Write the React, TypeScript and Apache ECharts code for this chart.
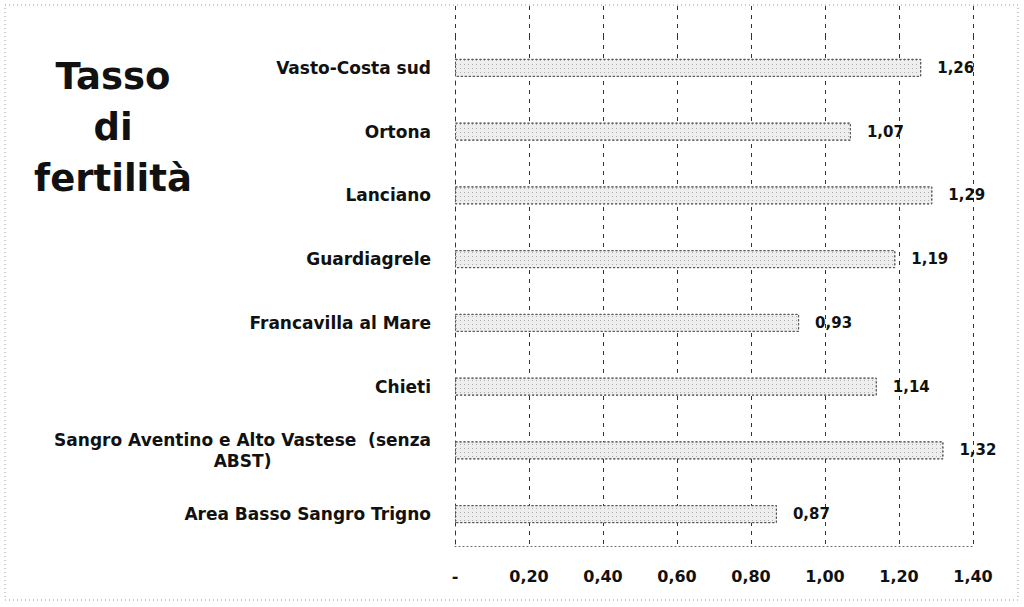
import React, { useEffect, useRef } from "react";
import * as echarts from "echarts";

const categories = [
  "Vasto-Costa sud",
  "Ortona",
  "Lanciano",
  "Guardiagrele",
  "Francavilla al Mare",
  "Chieti",
  "Sangro Aventino e Alto Vastese  (senza ABST)",
  "Area Basso Sangro Trigno",
];
const values = [1.26, 1.07, 1.29, 1.19, 0.93, 1.14, 1.32, 0.87];
const axisMin = 0;
const axisMax = 1.4;
const axisStep = 0.2;
const titleText = "Tasso\ndi\nfertilità";

const FONT = "DejaVu Sans";
const fmt = (v: number) => (Math.abs(v) < 1e-9 ? "-" : v.toFixed(2).replace(".", ","));

export default function App() {
  const ref = useRef<HTMLDivElement>(null);
  useEffect(() => {
    if (!ref.current) return;
    const chart = echarts.init(ref.current, null, { renderer: "svg" });
    const gridLineStyle = { color: "#333", type: [4, 5] as any, width: 1 };
    chart.setOption({
      animation: false,
      backgroundColor: "#fff",
      textStyle: { fontFamily: FONT },
      grid: [
        { left: 455, right: 51, top: 36, bottom: 61, containLabel: false },
        { left: 455, right: 51, top: 6, height: 30, containLabel: false },
      ],
      graphic: [
        {
          type: "rect",
          shape: { x: 5, y: 5, width: 1013, height: 595 },
          style: { fill: "none", stroke: "#999", lineWidth: 1, lineDash: [1, 3] },
          silent: true,
        },
        {
          type: "text",
          x: 113,
          y: 127,
          style: {
            text: titleText,
            fontFamily: FONT,
            fontWeight: "bold",
            fontSize: 37,
            lineHeight: 51,
            fill: "#111",
            align: "center",
            verticalAlign: "middle",
          },
        },
      ],
      xAxis: [
        {
          type: "value",
          gridIndex: 0,
          min: axisMin,
          max: axisMax,
          interval: axisStep,
          axisLine: { show: true, lineStyle: { color: "#666", type: [1, 3] as any } },
          axisTick: { show: false },
          splitLine: { show: true, lineStyle: gridLineStyle },
          axisLabel: {
            formatter: (v: number) => fmt(v),
            fontFamily: FONT,
            fontWeight: "bold",
            fontSize: 16,
            color: "#111",
            margin: 22,
          },
        },
        {
          type: "value",
          gridIndex: 1,
          min: axisMin,
          max: axisMax,
          interval: axisStep,
          axisLine: { show: false },
          axisTick: { show: false },
          axisLabel: { show: false },
          splitLine: { show: true, lineStyle: gridLineStyle },
        },
      ],
      yAxis: [
        {
          type: "category",
          gridIndex: 0,
          data: categories,
          inverse: true,
          axisLine: { show: true, lineStyle: gridLineStyle },
          axisTick: { show: false },
          axisLabel: {
            margin: 24,
            fontFamily: FONT,
            fontWeight: "bold",
            fontSize: 17,
            color: "#111",
            formatter: (v: string) => {
              const idx = v.indexOf("(senza");
              if (idx >= 0) {
                return "{a|" + v.slice(0, idx + 6) + "}\n{b|" + v.slice(idx + 7) + "}";
              }
              return v;
            },
            rich: {
              a: { fontFamily: FONT, fontWeight: "bold", fontSize: 17, color: "#111", lineHeight: 21, align: "right" },
              b: { fontFamily: FONT, fontWeight: "bold", fontSize: 17, color: "#111", lineHeight: 21, align: "center" },
            },
          },
        },
        {
          type: "category",
          gridIndex: 1,
          data: [""],
          show: false,
        },
      ],
      series: [
        {
          type: "bar",
          xAxisIndex: 0,
          yAxisIndex: 0,
          data: values,
          barWidth: 18,
          itemStyle: {
            color: "#eeeeee",
            borderColor: "#555",
            borderWidth: 1,
            borderType: [2, 2],
            decal: {
              symbol: "rect",
              symbolSize: 1,
              color: "rgba(0,0,0,0.28)",
              dashArrayX: [1, 3],
              dashArrayY: [1, 3],
              rotation: 0,
            },
          },
          label: {
            show: true,
            position: "right",
            distance: 16,
            formatter: (p: any) => fmt(p.value),
            fontFamily: FONT,
            fontWeight: "bold",
            fontSize: 15,
            color: "#111",
          },
        },
      ],
    });
    return () => chart.dispose();
  }, []);
  return (
    <div
      ref={ref}
      style={{ position: "fixed", left: 0, top: 0, width: 1024, height: 607 }}
    />
  );
}
